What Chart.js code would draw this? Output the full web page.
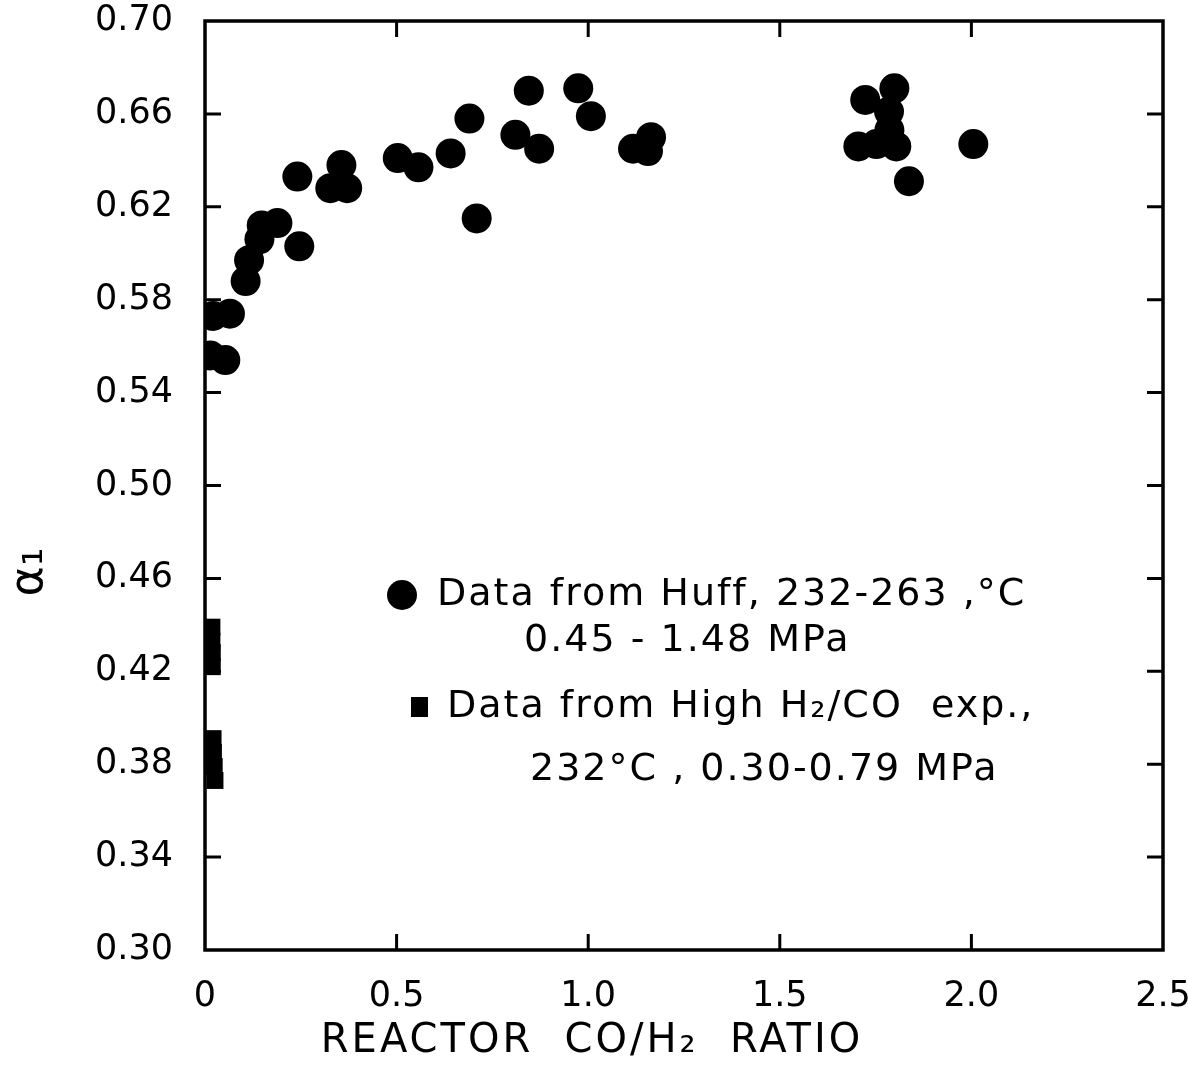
<!DOCTYPE html>
<html>
<head>
<meta charset="utf-8">
<script src="https://cdn.jsdelivr.net/npm/chart.js@4.4.0/dist/chart.umd.min.js"></script>
<style>
html, body { margin: 0; padding: 0; background: #fff; }
#wrap { width: 1188px; height: 1074px; }
</style>
</head>
<body>
<div id="wrap"><canvas id="alphaChart"></canvas></div>
<script>
// values
var huffX = [0.021, 0.065, 0.014, 0.053, 0.106, 0.115, 0.142, 0.148, 0.189, 0.246, 0.241,
             0.356, 0.327, 0.371, 0.503, 0.557, 0.641, 0.690, 0.709, 0.845, 0.810, 0.872,
             0.974, 1.007, 1.117, 1.164, 1.156, 1.723, 1.799, 1.785, 1.786, 1.705, 1.752,
             1.804, 1.837, 2.005];
var huffY = [0.573, 0.574, 0.556, 0.554, 0.588, 0.597, 0.606, 0.612, 0.613, 0.603, 0.633,
             0.638, 0.628, 0.628, 0.641, 0.637, 0.643, 0.658, 0.615, 0.670, 0.651, 0.645,
             0.671, 0.659, 0.645, 0.650, 0.644, 0.666, 0.671, 0.661, 0.653, 0.646, 0.647,
             0.646, 0.631, 0.647];
var highX = [0.018, 0.018, 0.019, 0.019, 0.021, 0.022, 0.024, 0.026];
var highY = [0.439, 0.433, 0.428, 0.422, 0.391, 0.385, 0.379, 0.373];

var xTicks = [0, 0.5, 1.0, 1.5, 2.0, 2.5];
var xTickLabels = ['0', '0.5', '1.0', '1.5', '2.0', '2.5'];
var yTicks = [0.30, 0.34, 0.38, 0.42, 0.46, 0.50, 0.54, 0.58, 0.62, 0.66, 0.70];
var yTickLabels = ['0.30', '0.34', '0.38', '0.42', '0.46', '0.50', '0.54', '0.58', '0.62', '0.66', '0.70'];

var legendLines = ['Data from Huff, 232-263 ,°C', '0.45 - 1.48 MPa',
                   'Data from High H₂/CO  exp.,', '232°C , 0.30-0.79 MPa'];
var xTitle = 'REACTOR  CO/H₂  RATIO';
var yTitle = 'α₁';

function toPoints(xs, ys) {
    return xs.map(function (x, i) { return { x: x, y: ys[i] }; });
}

// box, inward ticks, legend and the axis titles
var frameAndLegend = {
    id: 'frameAndLegend',
    afterDatasetsDraw: function (chart) {
        var ctx = chart.ctx, a = chart.chartArea;
        var xs = chart.scales.x, ys = chart.scales.y;
        ctx.save();
        ctx.strokeStyle = '#000';
        ctx.lineWidth = 3.5;
        ctx.strokeRect(a.left, a.top, a.right - a.left, a.bottom - a.top);
        ctx.lineWidth = 3;
        ctx.beginPath();
        xTicks.slice(1, -1).forEach(function (v) {
            var px = xs.getPixelForValue(v);
            ctx.moveTo(px, a.bottom); ctx.lineTo(px, a.bottom - 16);
            ctx.moveTo(px, a.top); ctx.lineTo(px, a.top + 16);
        });
        yTicks.slice(1, -1).forEach(function (v) {
            var py = ys.getPixelForValue(v);
            ctx.moveTo(a.left, py); ctx.lineTo(a.left + 16, py);
            ctx.moveTo(a.right, py); ctx.lineTo(a.right - 16, py);
        });
        ctx.stroke();

        // legend
        ctx.fillStyle = '#000';
        ctx.beginPath();
        ctx.arc(402, 595, 15, 0, Math.PI * 2);
        ctx.fill();
        ctx.fillRect(411, 697, 17, 20);
        ctx.font = '38px "DejaVu Sans"';
        ctx.letterSpacing = '2px';
        ctx.textBaseline = 'middle';
        ctx.textAlign = 'left';
        ctx.fillText(legendLines[0], 437, 595);
        ctx.fillText(legendLines[1], 524, 641);
        ctx.fillText(legendLines[2], 447, 707);
        ctx.fillText(legendLines[3], 530, 770);

        // x axis title
        ctx.textAlign = 'center';
        ctx.font = '40px "DejaVu Sans"';
        ctx.letterSpacing = '3px';
        ctx.fillText(xTitle, 592, 1042);

        // y axis title
        ctx.letterSpacing = '0px';
        ctx.translate(30, 572);
        ctx.rotate(-Math.PI / 2);
        ctx.font = '46px "DejaVu Sans"';
        ctx.fillText(yTitle, 0, 0);
        ctx.restore();
    }
};

var ctx = document.getElementById('alphaChart').getContext('2d');
var alphaChart = new Chart(ctx, {
    type: 'scatter',
    data: {
        datasets: [{
            label: 'Data from Huff',
            data: toPoints(huffX, huffY),
            pointStyle: 'circle',
            pointRadius: 15,
            pointHoverRadius: 15,
            backgroundColor: '#000',
            borderWidth: 0
        }, {
            label: 'Data from High H2/CO exp.',
            data: toPoints(highX, highY),
            pointStyle: 'rect',
            pointRadius: 12,
            pointHoverRadius: 12,
            backgroundColor: '#000',
            borderWidth: 0
        }]
    },
    options: {
        responsive: true,
        maintainAspectRatio: false,
        animation: false,
        layout: { padding: { top: 21, right: 25, left: 0, bottom: 0 } },
        scales: {
            x: {
                type: 'linear',
                min: 0,
                max: 2.5,
                afterBuildTicks: function (s) { s.ticks = xTicks.map(function (v) { return { value: v }; }); },
                afterFit: function (s) { s.height = 124; s.paddingLeft = 0; s.paddingRight = 0; },
                grid: { display: false, drawTicks: false },
                border: { display: false },
                ticks: {
                    padding: 26,
                    color: '#000',
                    font: { family: 'DejaVu Sans', size: 35 },
                    callback: function (v, i) { return xTickLabels[i]; }
                }
            },
            y: {
                type: 'linear',
                min: 0.30,
                max: 0.70,
                afterBuildTicks: function (s) { s.ticks = yTicks.map(function (v) { return { value: v }; }); },
                afterFit: function (s) { s.width = 205; s.paddingTop = 0; s.paddingBottom = 0; },
                grid: { display: false, drawTicks: false },
                border: { display: false },
                ticks: {
                    padding: 32,
                    color: '#000',
                    font: { family: 'DejaVu Sans', size: 35 },
                    callback: function (v, i) { return yTickLabels[i]; }
                }
            }
        },
        plugins: {
            legend: { display: false },
            tooltip: { enabled: false }
        }
    },
    plugins: [frameAndLegend]
});
</script>
</body>
</html>
